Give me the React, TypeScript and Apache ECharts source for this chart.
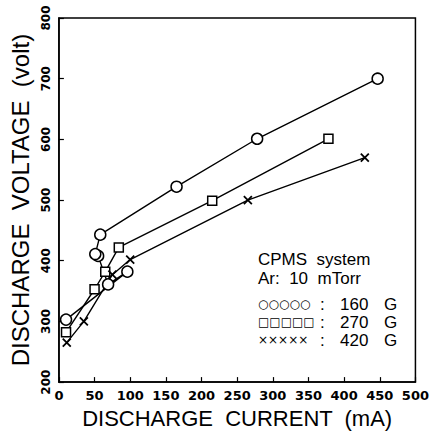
import React, { useEffect, useRef } from "react";
import * as echarts from "echarts";

// DISCHARGE CURRENT (mA), DISCHARGE VOLTAGE (volt)
const circle160G: number[][] = [
  [10, 303], [96, 382], [69, 361], [55, 408], [51, 411], [58, 443], [165, 522], [278, 601], [447, 700],
];
const square270G: number[][] = [
  [10, 282], [50, 353], [65, 382], [84, 422], [215, 499], [378, 601],
];
const cross420G: number[][] = [
  [11, 265], [35, 300], [75, 377], [100, 402], [265, 500], [429, 570],
];

const xTicks = [0, 50, 100, 150, 200, 250, 300, 350, 400, 450, 500];
const yTicks = [200, 300, 400, 500, 600, 700, 800];

const legendHeader = ["CPMS  system", "Ar:  10  mTorr"];
const legendSymbols = ["○○○○○", "□□□□□", "×××××"];
const legendValues = ["160", "270", "420"];

const CROSS = "path://M0,0L10,10M10,0L0,10";

export default function App() {
  const ref = useRef<HTMLDivElement>(null);
  useEffect(() => {
    if (!ref.current) return;
    const chart = echarts.init(ref.current, null, { renderer: "svg" });
    const lineStyle = { color: "#000", width: 1.4 };
    const item = { color: "#fff", borderColor: "#000", borderWidth: 1.5 };
    const font = "Liberation Sans";
    const graphics: any[] = [];
    legendHeader.forEach((t, i) => {
      graphics.push({
        type: "text", left: 258, top: 251 + i * 19,
        style: { text: t, font: `17px '${font}'`, fill: "#000" },
      });
    });
    legendSymbols.forEach((t, i) => {
      const y = 297 + i * 18;
      graphics.push({
        type: "text", left: 258, top: y + 1,
        style: { text: t, font: `12px 'DejaVu Sans'`, fill: "#000" },
      });
      graphics.push({
        type: "text", left: 320, top: y - 1,
        style: { text: ":", font: `17px '${font}'`, fill: "#000" },
      });
      graphics.push({
        type: "text", left: 340, top: y - 1,
        style: { text: legendValues[i], font: `17px '${font}'`, fill: "#000" },
      });
      graphics.push({
        type: "text", left: 384, top: y - 1,
        style: { text: "G", font: `17px '${font}'`, fill: "#000" },
      });
    });
    chart.setOption({
      animation: false,
      backgroundColor: "#fff",
      grid: {
        left: 58, right: 14, top: 18, bottom: 51,
        show: true, borderColor: "#000", borderWidth: 1.5, backgroundColor: "transparent",
      },
      xAxis: {
        type: "value", min: 0, max: 500, interval: 50,
        name: "DISCHARGE  CURRENT  (mA)",
        nameLocation: "middle", nameGap: 24,
        nameTextStyle: { fontFamily: font, fontSize: 22, color: "#000" },
        axisLine: { lineStyle: { color: "#000", width: 1.5 } },
        axisTick: { inside: true, length: 5, lineStyle: { color: "#000", width: 1.2 } },
        axisLabel: {
          color: "#000", fontFamily: "DejaVu Sans", fontWeight: "bold", fontSize: 13, margin: 7,
          showMaxLabel: true, showMinLabel: true,
          formatter: (v: number) => (xTicks.includes(v) ? String(v) : ""),
        },
        splitLine: { show: false },
      },
      yAxis: {
        type: "value", min: 200, max: 800, interval: 100,
        name: "DISCHARGE  VOLTAGE  (volt)",
        nameLocation: "middle", nameGap: 13, nameRotate: 90,
        nameTextStyle: { fontFamily: font, fontSize: 24, color: "#000" },
        axisLine: { lineStyle: { color: "#000", width: 1.5 } },
        axisTick: { inside: true, length: 5, lineStyle: { color: "#000", width: 1.2 } },
        axisLabel: {
          color: "#000", fontFamily: "DejaVu Sans", fontWeight: "bold", fontSize: 12, margin: 7,
          rotate: 90, showMaxLabel: true, showMinLabel: true,
          formatter: (v: number) => (yTicks.includes(v) ? String(v) : ""),
        },
        splitLine: { show: false },
      },
      series: [
        {
          type: "line", data: circle160G, symbol: "circle", symbolSize: 11,
          lineStyle, itemStyle: item, z: 3,
        },
        {
          type: "line", data: square270G, symbol: "rect", symbolSize: 9,
          lineStyle, itemStyle: item, z: 3,
        },
        {
          type: "line", data: cross420G, symbol: CROSS, symbolSize: 8,
          lineStyle, itemStyle: { color: "#000", borderColor: "#000", borderWidth: 1.8 }, z: 3,
        },
      ],
      graphic: graphics,
    });
    return () => chart.dispose();
  }, []);
  return <div ref={ref} style={{ width: 432, height: 434, position: "absolute", left: 0, top: 0 }} />;
}
